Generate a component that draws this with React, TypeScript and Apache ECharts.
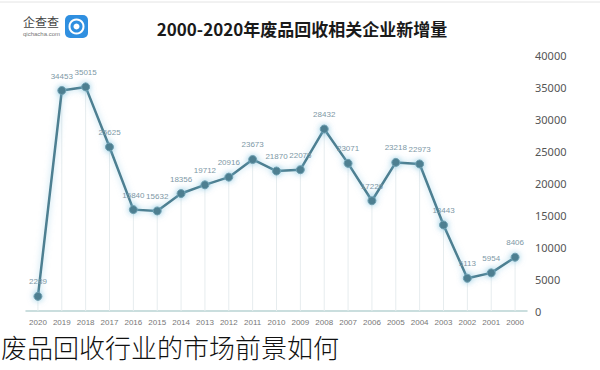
import React, { useEffect, useRef } from "react";
import * as echarts from "echarts";

const years = ["2000","2001","2002","2003","2004","2005","2006","2007","2008","2009","2010","2011","2012","2013","2014","2015","2016","2017","2018","2019","2020"];
const newCompanies = [8406,5954,5113,13443,22973,23218,17226,23071,28432,22075,21870,23673,20916,19712,18356,15632,15840,25625,35015,34453,2289];
const yTicks = { min: 0, max: 40000, interval: 5000 };
const titleText = "2000-2020年废品回收相关企业新增量";
const captionText = "废品回收行业的市场前景如何";

export default function App() {
  const ref = useRef<HTMLDivElement>(null);
  useEffect(() => {
    if (!ref.current) return;
    const chart = echarts.init(ref.current, null, { renderer: "svg" });
    chart.setOption({
      animation: false,
      backgroundColor: "#ffffff",
      title: {
        text: titleText,
        left: 297,
        top: 15,
        textAlign: "center",
        textStyle: { fontSize: 17, fontWeight: "bold", color: "#1a1a1a", fontFamily: "Noto Sans CJK SC" },
      },
      grid: { left: 26, right: 73, top: 55, bottom: 59 },
      xAxis: {
        type: "category",
        data: years,
        inverse: true,
        boundaryGap: true,
        axisLine: { lineStyle: { color: "#b9d3d3", width: 1.5 } },
        axisTick: { show: false },
        axisLabel: { fontSize: 8, color: "#777", margin: 7, interval: 0 },
      },
      yAxis: {
        type: "value",
        position: "right",
        min: yTicks.min,
        max: yTicks.max,
        interval: yTicks.interval,
        axisLine: { show: false },
        axisTick: { show: false },
        splitLine: { show: false },
        axisLabel: { fontSize: 11, color: "#555", margin: 8, fontFamily: "Noto Sans", formatter: (v: number) => String(v) },
      },
      series: [
        {
          type: "bar",
          data: newCompanies,
          barWidth: 1,
          itemStyle: { color: "#e6ecee" },
          silent: true,
          z: 1,
        },
        {
          type: "line",
          data: newCompanies,
          symbol: "circle",
          symbolSize: 8,
          lineStyle: { color: "#4d7f91", width: 2.5, shadowColor: "rgba(120,190,220,0.6)", shadowBlur: 6 },
          itemStyle: { color: "#4d7f91", borderColor: "#6f9fb0", borderWidth: 1, shadowColor: "rgba(120,190,220,0.8)", shadowBlur: 6 },
          label: { show: true, position: "top", fontSize: 8, color: "#7d98a6", distance: 6 },
          z: 3,
        },
      ],
      graphic: [
        { type: "line", shape: { x1: 0, y1: 2, x2: 600, y2: 2 }, style: { stroke: "#e4e4e4", lineWidth: 1 } },
        { type: "rect", shape: { x: 65, y: 15, width: 23, height: 23, r: 5 }, style: { fill: "#2f8fe0" } },
        { type: "circle", shape: { cx: 76.5, cy: 26.5, r: 7 }, style: { fill: "none", stroke: "#ffffff", lineWidth: 2 } },
        { type: "circle", shape: { cx: 76.5, cy: 26.5, r: 3 }, style: { fill: "#ffffff" } },
        { type: "text", left: 23, top: 15, style: { text: "企查查", fontSize: 12, fill: "#444", fontFamily: "Noto Sans CJK SC" } },
        { type: "text", left: 23, top: 31, style: { text: "qichacha.com", fontSize: 6, fill: "#777" } },
        { type: "text", left: 1, top: 333, style: { text: captionText, fontSize: 26, fill: "#111", fontFamily: "Noto Sans CJK SC", fontWeight: 300 } },
      ],
    });
    return () => chart.dispose();
  }, []);
  return <div ref={ref} style={{ position: "fixed", left: 0, top: 0, width: 600, height: 370 }} />;
}
